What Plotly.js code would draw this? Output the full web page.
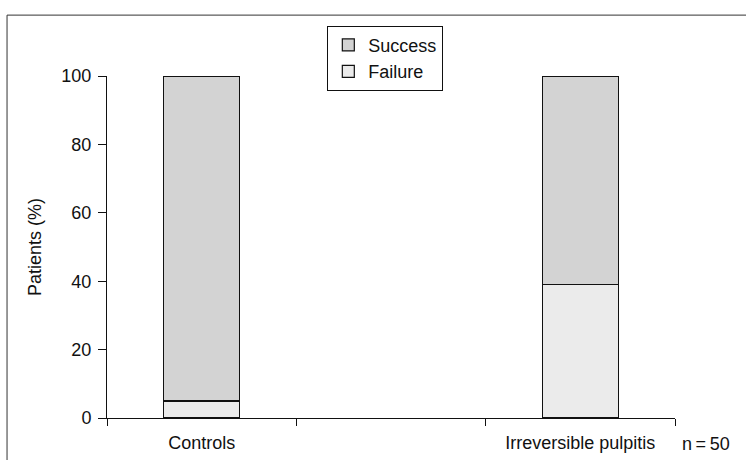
<!DOCTYPE html>
<html>
<head>
<meta charset="utf-8">
<script src="https://cdn.plot.ly/plotly-3.0.1.min.js"></script>
<style>html,body{margin:0;padding:0;background:#fff;}#chart{width:746px;height:460px;}</style>
</head>
<body>
<div id="chart"></div>
<script>
var categories = ["Controls", " ", "Irreversible pulpitis"];
var groups = ["Controls", "Irreversible pulpitis"];
var failure = [5, 39];
var success = [95, 61];
var yTicks = [0, 20, 40, 60, 80, 100];
var noteText = "n\u2009=\u200950";

var fontFam = "Liberation Sans, Arial, sans-serif";
var data = [
  {type: "bar", name: "Failure", x: groups, y: failure, width: 0.4,
   marker: {color: "#ebebeb", line: {color: "#111", width: 1.2}}},
  {type: "bar", name: "Success", x: groups, y: success, width: 0.4,
   marker: {color: "#d3d3d3", line: {color: "#111", width: 1.2}}}
];
var layout = {
  width: 746, height: 460,
  margin: {l: 107, r: 71, t: 76, b: 42},
  paper_bgcolor: "#fff", plot_bgcolor: "#fff",
  barmode: "stack",
  showlegend: true,
  font: {family: fontFam, color: "#111", size: 18},
  legend: {x: 0.49, y: 1.052, xanchor: "center", yanchor: "middle", traceorder: "reversed",
           bordercolor: "#111", borderwidth: 1, bgcolor: "#fff",
           font: {size: 18, family: fontFam}, tracegroupgap: 0},
  xaxis: {type: "category", categoryorder: "array", categoryarray: categories,
          tickson: "boundaries", ticks: "outside", ticklen: 7, tickcolor: "#111", tickwidth: 1,
          ticklabelstandoff: 8,
          showline: true, linecolor: "#111", linewidth: 1, showgrid: false, zeroline: false,
          tickfont: {size: 18}, fixedrange: true},
  yaxis: {range: [0, 100], tickvals: yTicks, ticks: "outside", ticklen: 8,
          tickcolor: "#111", showline: true, linecolor: "#111", linewidth: 1,
          ticklabelstandoff: 3,
          showgrid: false, zeroline: false, tickfont: {size: 18},
          title: {text: "Patients (%)", font: {size: 18}, standoff: 15}},
  shapes: [{type: "rect", xref: "paper", yref: "paper", x0: -0.176, x1: 1.3, y0: -0.3, y1: 1.178,
            line: {color: "#333", width: 1}, fillcolor: "rgba(0,0,0,0)"}],
  annotations: [{xref: "paper", yref: "paper", x: 1.0546, y: -0.075, xanchor: "center", yanchor: "middle",
                 text: noteText, showarrow: false, font: {size: 18}}]
};
Plotly.newPlot("chart", data, layout, {displayModeBar: false, staticPlot: true});
</script>
</body>
</html>
